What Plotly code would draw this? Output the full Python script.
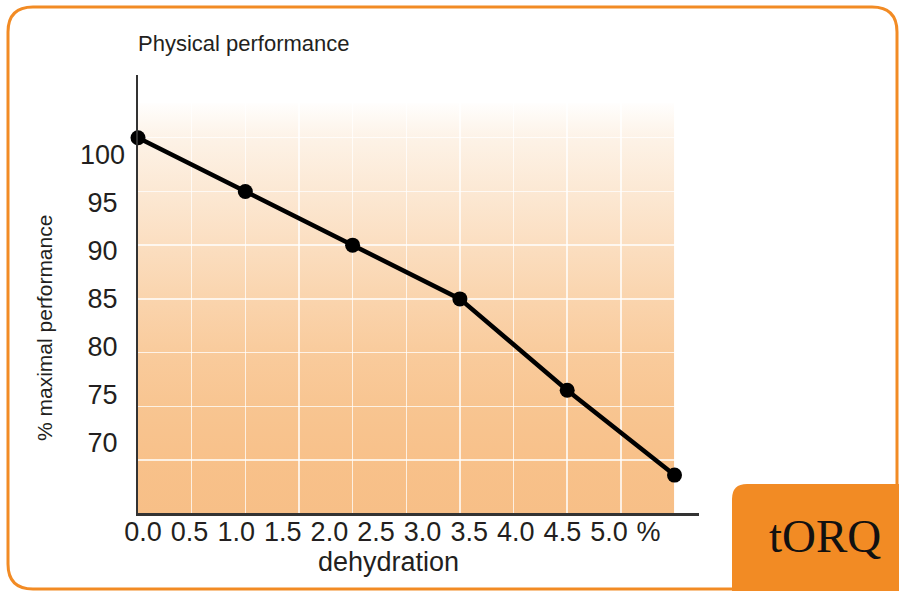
import base64
import plotly.graph_objects as go

# ---- data ----
dehydration = [0, 1, 2, 3, 4, 5]
performance = [100, 95, 90, 85, 76.5, 68.6]

x_tick_vals = [0, 0.5, 1.0, 1.5, 2.0, 2.5, 3.0, 3.5, 4.0, 4.5, 5.0, 5.424]
x_tick_text = ["0.0", "0.5", "1.0", "1.5", "2.0", "2.5", "3.0", "3.5", "4.0", "4.5", "5.0", "%"]
y_tick_vals = [100, 95, 90, 85, 80, 75, 70]
y_tick_text = ["100", "95\u00a0", "90\u00a0", "85\u00a0", "80\u00a0", "75\u00a0", "70\u00a0"]
grid_y = [70, 75, 80, 85, 90, 95, 100]

title_text = "Physical performance"
x_title = "dehydration"
y_title = "% maximal performance"
logo_text = "tORQ"

# ---- layout geometry (pixels) ----
W, H = 899, 591
L, R, T, B = 138, 699, 75, 513
PW, PH = R - L, B - T

def px(x):
    return (x - L) / PW

def py(y):
    return (B - y) / PH

X_RANGE = [0, 5.2283]
Y_RANGE = [65.07, 105.84]
X2_RANGE = [-0.0536, 5.966]
Y2_RANGE = [62.71, 108.33]
FILL_TOP = 103.23

TEXT = "#231f20"
ORANGE = "#f28b24"

# gradient background image (svg)
svg = (
    '<svg xmlns="http://www.w3.org/2000/svg" width="100" height="400" preserveAspectRatio="none">'
    '<defs><linearGradient id="g" x1="0" y1="0" x2="0" y2="1">'
    '<stop offset="0" stop-color="#fffefd"/>'
    '<stop offset="0.09" stop-color="#fdf2e6"/>'
    '<stop offset="0.22" stop-color="#fce8d3"/>'
    '<stop offset="0.35" stop-color="#fbdec0"/>'
    '<stop offset="0.48" stop-color="#fad4ad"/>'
    '<stop offset="0.61" stop-color="#f9cb9c"/>'
    '<stop offset="0.74" stop-color="#f8c591"/>'
    '<stop offset="0.87" stop-color="#f8c18a"/>'
    '<stop offset="1" stop-color="#f7bf87"/>'
    '</linearGradient></defs>'
    '<rect width="100" height="400" fill="url(#g)"/></svg>'
)
svg_uri = "data:image/svg+xml;base64," + base64.b64encode(svg.encode()).decode()

fig = go.Figure()

fig.add_trace(go.Scatter(
    x=dehydration, y=performance, mode="lines+markers",
    line=dict(color="#000000", width=4.5),
    marker=dict(color="#000000", size=15),
    cliponaxis=False, hoverinfo="skip", showlegend=False,
))
# carrier trace for the label axes
fig.add_trace(go.Scatter(x=[None], y=[None], xaxis="x2", yaxis="y2",
                         showlegend=False, hoverinfo="skip"))

def rounded_path(x0, y0, x1, y1, r, corners=(1, 1, 1, 1)):
    tl, tr, br, bl = [r * c for c in corners]
    pts = []
    pts.append(f"M {px(x0 + tl)},{py(y0)}")
    pts.append(f"L {px(x1 - tr)},{py(y0)}")
    if tr:
        pts.append(f"Q {px(x1)},{py(y0)} {px(x1)},{py(y0 + tr)}")
    pts.append(f"L {px(x1)},{py(y1 - br)}")
    if br:
        pts.append(f"Q {px(x1)},{py(y1)} {px(x1 - br)},{py(y1)}")
    pts.append(f"L {px(x0 + bl)},{py(y1)}")
    if bl:
        pts.append(f"Q {px(x0)},{py(y1)} {px(x0)},{py(y1 - bl)}")
    pts.append(f"L {px(x0)},{py(y0 + tl)}")
    if tl:
        pts.append(f"Q {px(x0)},{py(y0)} {px(x0 + tl)},{py(y0)}")
    pts.append("Z")
    return " ".join(pts)

shapes = [
    dict(type="path", xref="paper", yref="paper",
         path=rounded_path(8, 7, 897, 589, 25),
         line=dict(color=ORANGE, width=3), fillcolor="rgba(0,0,0,0)", layer="above"),
    dict(type="path", xref="paper", yref="paper",
         path=rounded_path(732, 484, 910, 600, 15, corners=(1, 0, 0, 0)),
         line=dict(width=0), fillcolor=ORANGE, layer="above"),
]

annotations = [
    dict(text=title_text, xref="paper", yref="paper", x=px(136), y=py(43),
         xanchor="left", yanchor="middle", showarrow=False,
         font=dict(family="Liberation Sans, Arial", size=22, color=TEXT)),
    dict(text=x_title, xref="paper", yref="paper", x=px(388), y=py(562),
         xanchor="center", yanchor="middle", showarrow=False,
         font=dict(family="Liberation Sans, Arial", size=27, color=TEXT)),
    dict(text=y_title, xref="paper", yref="paper", x=px(44), y=py(328),
         xanchor="center", yanchor="middle", showarrow=False, textangle=-90,
         font=dict(family="Liberation Sans, Arial", size=21, color=TEXT)),
    dict(text=logo_text, xref="paper", yref="paper", x=px(825), y=py(536),
         xanchor="center", yanchor="middle", showarrow=False,
         font=dict(family="Liberation Serif, DejaVu Serif", size=47, color="#111111")),
]

fig.update_layout(
    width=W, height=H,
    margin=dict(l=L, r=W - R, t=T, b=H - B, pad=0),
    paper_bgcolor="white", plot_bgcolor="white",
    showlegend=False,
    xaxis=dict(range=X_RANGE, showgrid=True, tickvals=[0.5 * i for i in range(11)],
               gridcolor="rgba(255,255,255,0.75)", gridwidth=1.5,
               showticklabels=False, ticks="", zeroline=False,
               showline=True, linecolor="#333333", linewidth=2.5, fixedrange=True),
    yaxis=dict(range=Y_RANGE, showgrid=True, tickvals=grid_y,
               gridcolor="rgba(255,255,255,0.75)", gridwidth=1.5,
               showticklabels=False, ticks="", zeroline=False,
               showline=True, linecolor="#333333", linewidth=2.5, fixedrange=True),
    xaxis2=dict(overlaying="x", anchor="y", side="bottom", range=X2_RANGE,
                tickvals=x_tick_vals, ticktext=x_tick_text, ticks="",
                showgrid=False, zeroline=False, showline=False,
                tickfont=dict(family="Liberation Sans, Arial", size=27, color=TEXT),
                ticklabelstandoff=0),
    yaxis2=dict(overlaying="y", anchor="x", side="left", range=Y2_RANGE,
                tickvals=y_tick_vals, ticktext=y_tick_text, ticks="",
                showgrid=False, zeroline=False, showline=False,
                tickfont=dict(family="Liberation Sans, Arial", size=27, color=TEXT),
                ticklabelstandoff=12),
    images=[dict(source=svg_uri, xref="x", yref="y", x=0, y=FILL_TOP,
                 sizex=5, sizey=FILL_TOP - Y_RANGE[0], sizing="stretch",
                 xanchor="left", yanchor="top", layer="below")],
    shapes=shapes,
    annotations=annotations,
)

fig.write_html("out.html",
               config={"displayModeBar": False, "staticPlot": True},
               post_script="document.body.style.margin='0';document.body.style.padding='0';")
